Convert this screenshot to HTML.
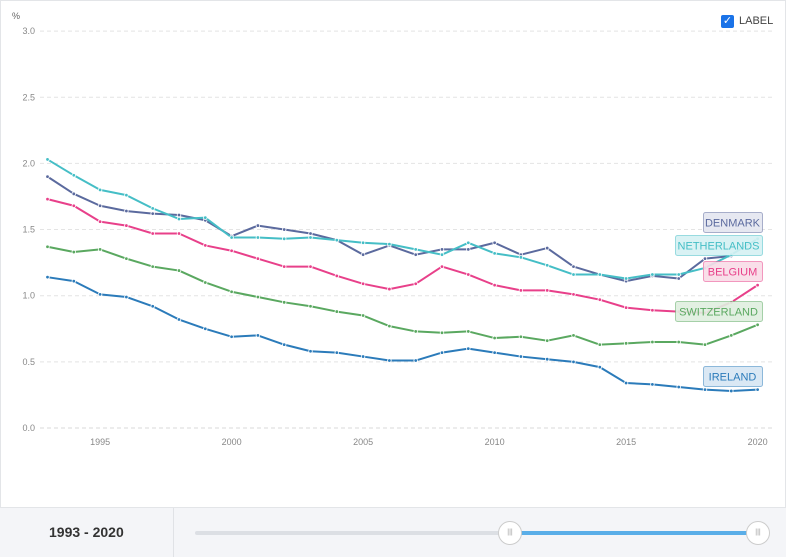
<!DOCTYPE html>
<html><head><meta charset="utf-8"><style>
body{margin:0;width:786px;height:556px;overflow:hidden;background:#fff;font-family:"Liberation Sans",sans-serif;}
#wrap{position:absolute;left:0;top:0;width:784px;height:554px;border:1px solid #e3e5e8;}
#bottom{position:absolute;left:0;top:507px;width:786px;height:49px;background:#f4f5f8;border-top:1px solid #e3e5e8;}
</style></head><body>
<div id="wrap"></div>
<svg id="chart" width="786" height="507" style="position:absolute;left:0;top:0"></svg>
<div style="position:absolute;left:721px;top:15px;width:13px;height:13px;background:#1a73e8;border-radius:2px;color:#fff;font-size:11px;line-height:13px;text-align:center">✓</div>
<div style="position:absolute;left:739px;top:15px;font-size:11px;color:#444">LABEL</div>
<div id="bottom">
 <div style="position:absolute;left:49px;top:16px;font-size:14px;font-weight:bold;color:#333">1993 - 2020</div>
 <div style="position:absolute;left:173px;top:0;width:1px;height:49px;background:#e0e2e6"></div>
 <div style="position:absolute;left:195px;top:23px;width:563px;height:4px;background:#dcdfe4;border-radius:2px"></div>
 <div style="position:absolute;left:510px;top:23px;width:248px;height:4px;background:#5aaee8"></div>
 <div style="position:absolute;left:498px;top:13px;width:22px;height:22px;border-radius:50%;background:#fff;border:1px solid #ccc;font-size:7px;color:#999;text-align:center;line-height:22px">|||</div>
 <div style="position:absolute;left:746px;top:13px;width:22px;height:22px;border-radius:50%;background:#fff;border:1px solid #ccc;font-size:7px;color:#999;text-align:center;line-height:22px">|||</div>
</div>
<script>
const years=[1993,1994,1995,1996,1997,1998,1999,2000,2001,2002,2003,2004,2005,2006,2007,2008,2009,2010,2011,2012,2013,2014,2015,2016,2017,2018,2019,2020];
const yTicks=[0,0.5,1,1.5,2,2.5,3];
const xTicks=[1995,2000,2005,2010,2015,2020];
const denmark=[1.90,1.77,1.68,1.64,1.62,1.61,1.57,1.45,1.53,1.50,1.47,1.42,1.31,1.38,1.31,1.35,1.35,1.40,1.31,1.36,1.22,1.16,1.11,1.15,1.13,1.28,1.30,null];
const netherlands=[2.03,1.91,1.80,1.76,1.66,1.58,1.59,1.44,1.44,1.43,1.44,1.42,1.40,1.39,1.35,1.31,1.40,1.32,1.29,1.23,1.16,1.16,1.13,1.16,1.16,1.21,1.31,1.43];
const belgium=[1.73,1.68,1.56,1.53,1.47,1.47,1.38,1.34,1.28,1.22,1.22,1.15,1.09,1.05,1.09,1.22,1.16,1.08,1.04,1.04,1.01,0.97,0.91,0.89,0.88,0.87,0.95,1.08];
const switzerland=[1.37,1.33,1.35,1.28,1.22,1.19,1.10,1.03,0.99,0.95,0.92,0.88,0.85,0.77,0.73,0.72,0.73,0.68,0.69,0.66,0.70,0.63,0.64,0.65,0.65,0.63,0.70,0.78];
const ireland=[1.14,1.11,1.01,0.99,0.92,0.82,0.75,0.69,0.70,0.63,0.58,0.57,0.54,0.51,0.51,0.57,0.60,0.57,0.54,0.52,0.50,0.46,0.34,0.33,0.31,0.29,0.28,0.29];
const NS="http://www.w3.org/2000/svg";
const svg=document.getElementById('chart');
const x=v=>47.5+(v-1993)*26.3;
const y=v=>428-v*132.3;
function mk(t,a,p){const e=document.createElementNS(NS,t);for(const k in a)e.setAttribute(k,a[k]);(p||svg).appendChild(e);return e;}
yTicks.forEach(t=>{
 const l=mk('line',{x1:40,x2:775,y1:y(t),y2:y(t),stroke:t>0?'#e4e4e4':'#d8d8d8','stroke-dasharray':'4,3'});
 
 
 const tx=mk('text',{x:35,y:y(t)+3,'text-anchor':'end','font-size':9,fill:'#888'});tx.textContent=t.toFixed(1);
 
 
});
const pct=mk('text',{x:12,y:19,'font-size':9,fill:'#666'});pct.textContent='%';


xTicks.forEach(t=>{const tx=mk('text',{x:x(t),y:445,'text-anchor':'middle','font-size':9,fill:'#888'});tx.textContent=t;
 
 });
const series=[['denmark',denmark,'#5b6a9e'],['netherlands',netherlands,'#45bec6'],['belgium',belgium,'#e8408a'],['switzerland',switzerland,'#5aa860'],['ireland',ireland,'#2b7bba']];
series.forEach(([n,d,c])=>{
 const pts=[];d.forEach((v,i)=>{if(v!=null)pts.push(x(years[i])+','+y(v));});
 const pl=mk('polyline',{points:pts.join(' '),fill:'none',stroke:c,'stroke-width':2,'stroke-linejoin':'round'});
 
 
 d.forEach((v,i)=>{if(v==null)return;const p=mk('circle',{cx:x(years[i]),cy:y(v),r:1.8,fill:c,stroke:'#fff','stroke-width':0.8});
  
  });
});
const labels=[['DENMARK',703,212,'#5b6a9e','#e3e5f0'],['NETHERLANDS',675,235,'#45bec6','#d5f1f3'],['BELGIUM',703,261,'#e8408a','#f8dbe7'],['SWITZERLAND',675,301,'#5aa860','#dfeedf'],['IRELAND',703,366,'#2b7bba','#d6e6f3']];
labels.forEach(([t,lx,ly,c,bg])=>{
 const g=mk('g',{});
 
 
 mk('rect',{x:lx+.5,y:ly+.5,width:762-lx,height:20,rx:2,fill:bg,stroke:c,'stroke-opacity':0.5,'fill-opacity':0.9},g);
 const tx=mk('text',{x:(lx+762)/2,y:ly+14.5,'text-anchor':'middle','font-size':11,fill:c},g);tx.textContent=t;
});
</script>
</body></html>
